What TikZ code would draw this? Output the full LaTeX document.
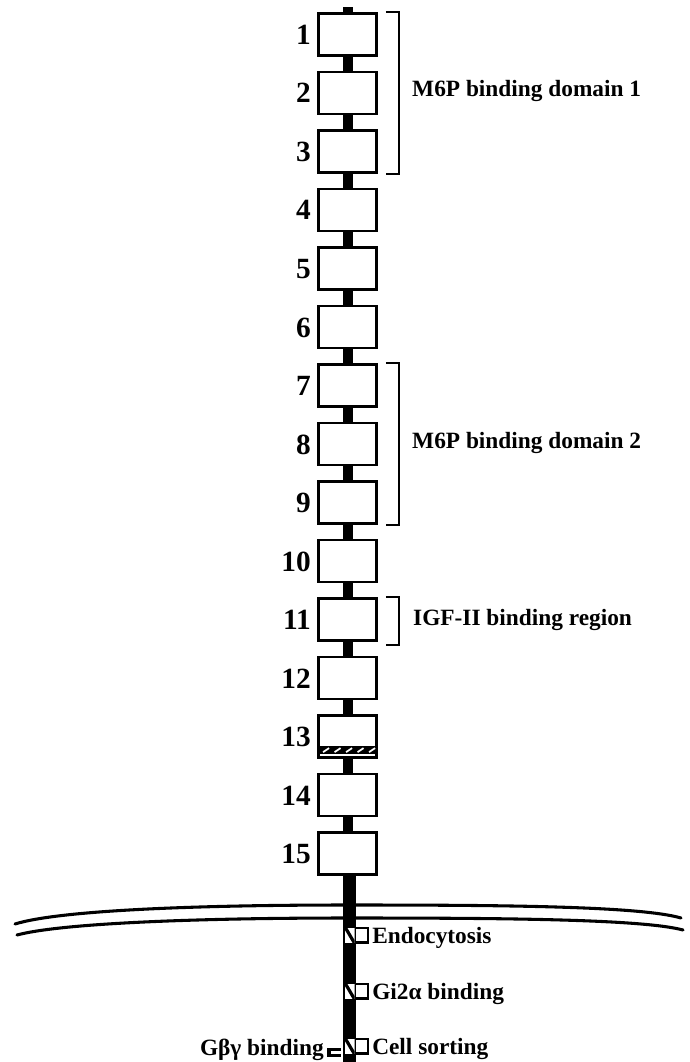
\documentclass[tikz,border=0pt]{standalone}
\usepackage{fontspec}
\setmainfont{Liberation Serif}
\usetikzlibrary{positioning,calc}
\tikzset{
  dom_box/.style={rectangle,draw=black,line width=2.2pt,fill=white,
    minimum width=43.5pt,minimum height=31.5pt,inner sep=0pt},
  num_lab/.style={font=\fontsize{22}{24}\selectfont\bfseries,
    inner sep=0pt,anchor=base east},
  reg_lab/.style={font=\fontsize{17.5}{19}\selectfont\bfseries,
    inner sep=0pt,anchor=base west},
  site_lab/.style={font=\fontsize{17.5}{19}\selectfont\bfseries,
    inner sep=0pt},
  brk/.style={line width=1.8pt},
  stem/.style={fill=black},
  memb/.style={line width=2.3pt,line cap=round},
  site_box/.style={line width=1.8pt},
}

\begin{document}
\begin{tikzpicture}[x=0.75pt,y=-0.75pt]
  \useasboundingbox (0,0) rectangle (689,1062);
  % membrane
  \draw[memb] (15,924) .. controls (60,910) and (200,905) .. (348,905)
              .. controls (500,905) and (640,906) .. (681,918);
  \draw[memb] (17,935) .. controls (62,923) and (200,918) .. (348,918)
              .. controls (500,918) and (642,919) .. (683,930);
  % repeat domains
  \foreach \i in {1,...,15}{
    \node (d\i) [dom_box] at (347.5,{34.5+(\i-1)*58.5}) {};
    \node (n\i) [num_lab] at ($(d\i.west)+(-6,10)$) {\i};
  }
  \foreach \i in {1,...,14}{
    \pgfmathtruncatemacro\j{\i+1}
    \fill[stem] ($(d\i.south)+(-5,0)$) rectangle ($(d\j.north)+(5,0)$);
  }
  \fill[stem] ($(d1.north)+(-5,0)$) rectangle ++(10,-5);
  % hatched band in domain 13
  \fill ($(d13.south west)+(1,-5)$) rectangle ($(d13.south east)+(-1,-12.5)$);
  \foreach \k in {0,...,4}
    \draw[white,line width=1.3pt] ($(d13.south west)+(6+\k*11.5,-6.8)$) -- ++(6,-4);
  % transmembrane / cytoplasmic tail
  \coordinate (tail) at (356,1062);
  \fill[stem] ($(d15.south)+(-4.5,0)$) rectangle (tail);
  % brackets
  \draw[brk] ($(d1.north east)+(8,0)$) -- ++(13,0) |- ($(d3.south east)+(8,0)$);
  \draw[brk] ($(d7.north east)+(8,0)$) -- ++(13,0) |- ($(d9.south east)+(8,0)$);
  \draw[brk] ($(d11.north east)+(8,0)$) -- ++(13,0) |- ($(d11.south east)+(8,3)$);
  \node (m1) [reg_lab] at ($(d2.east)+(34,4)$) {M6P binding domain 1};
  \node (m2) [reg_lab] at ($(d8.east)+(34,4)$) {M6P binding domain 2};
  \node (igf) [reg_lab] at ($(d11.east)+(35,6)$) {IGF-II binding region};
  % cytoplasmic motifs
  \foreach \y/\nm/\txt in {943/endo/Endocytosis,999/gia/Gi2α binding,1054/sort/Cell sorting}{
    \begin{scope}
      \clip (345,\y-15) rectangle (354.5,\y);
      \fill[white] (345,\y-15) rectangle (354.5,\y);
      \draw[line width=2.4pt] (345,\y-16) -- (355,\y+1);
    \end{scope}
    \draw[site_box] (355,\y-15) -| (368,\y-0.5) -- (355,\y-0.5);
    \node (\nm) [site_lab,anchor=base west] at (372,\y) {\txt};
  }
  \fill (327,1048) rectangle (341,1057);
  \fill[white] (330.5,1051) rectangle (341.5,1054);
  \node (gbg) [site_lab,anchor=base east] at (324,1055) {Gβγ binding};
\end{tikzpicture}
\end{document}
